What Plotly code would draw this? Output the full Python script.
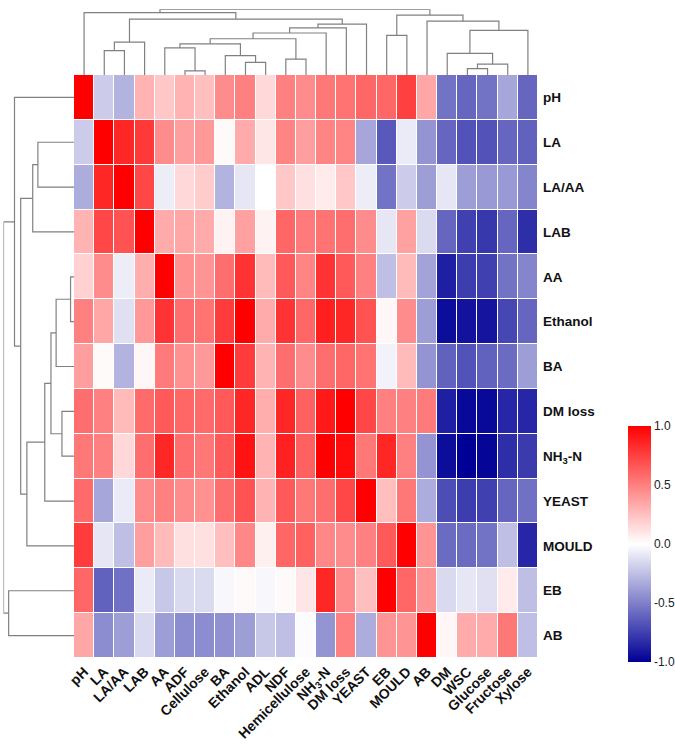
import plotly.graph_objects as go

# ---------------- data ----------------
row_labels = ["pH", "LA", "LA/AA", "LAB", "AA", "Ethanol", "BA", "DM loss",
              "NH<sub>3</sub>-N", "YEAST", "MOULD", "EB", "AB"]
col_labels = ["pH", "LA", "LA/AA", "LAB", "AA", "ADF", "Cellulose", "BA", "Ethanol",
              "ADL", "NDF", "Hemicellulose", "NH<sub>3</sub>-N", "DM loss", "YEAST",
              "EB", "MOULD", "AB", "DM", "WSC", "Glucose", "Fructose", "Xylose"]
col_keys = ["pH", "LA", "LA/AA", "LAB", "AA", "ADF", "Cellulose", "BA", "Ethanol",
            "ADL", "NDF", "Hemicellulose", "NH3-N", "DM loss", "YEAST",
            "EB", "MOULD", "AB", "DM", "WSC", "Glucose", "Fructose", "Xylose"]
row_keys = ["pH", "LA", "LA/AA", "LAB", "AA", "Ethanol", "BA", "DM loss",
            "NH3-N", "YEAST", "MOULD", "EB", "AB"]

r_pH      = [1.00, -0.20, -0.30, 0.30, 0.22, 0.30, 0.25, 0.45, 0.50, 0.15, 0.50, 0.45,
             0.53, 0.55, 0.60, 0.60, 0.75, 0.35, -0.55, -0.60, -0.55, -0.35, -0.60]
r_LA      = [-0.20, 1.00, 0.85, 0.78, 0.45, 0.38, 0.40, 0.02, 0.33, 0.10, 0.48, 0.38,
             0.48, 0.48, -0.35, -0.65, -0.08, -0.42, -0.60, -0.68, -0.68, -0.60, -0.62]
r_LAAA    = [-0.32, 0.85, 1.00, 0.72, -0.07, 0.15, 0.20, -0.30, -0.10, 0.00, 0.22, 0.12,
             0.08, 0.22, -0.07, -0.55, -0.20, -0.38, -0.10, -0.38, -0.40, -0.40, -0.48]
r_LAB     = [0.30, 0.72, 0.68, 1.00, 0.33, 0.35, 0.33, 0.05, 0.37, 0.05, 0.60, 0.52,
             0.55, 0.57, 0.45, -0.10, 0.37, -0.14, -0.60, -0.75, -0.78, -0.60, -0.82]
r_AA      = [0.18, 0.45, -0.07, 0.32, 1.00, 0.43, 0.42, 0.57, 0.80, 0.27, 0.65, 0.48,
             0.80, 0.65, 0.50, -0.25, 0.27, -0.36, -0.88, -0.76, -0.75, -0.55, -0.48]
r_Ethanol = [0.50, 0.35, -0.12, 0.40, 0.80, 0.57, 0.55, 0.77, 1.00, 0.33, 0.80, 0.60,
             0.88, 0.85, 0.68, 0.03, 0.45, -0.38, -0.95, -0.93, -0.92, -0.72, -0.60]
r_BA      = [0.38, 0.02, -0.30, 0.03, 0.52, 0.43, 0.40, 1.00, 0.77, 0.30, 0.57, 0.45,
             0.57, 0.60, 0.55, -0.05, 0.27, -0.42, -0.62, -0.68, -0.62, -0.58, -0.38]
r_DMloss  = [0.57, 0.50, 0.27, 0.58, 0.65, 0.60, 0.58, 0.65, 0.85, 0.32, 0.85, 0.62,
             0.90, 1.00, 0.72, 0.50, 0.50, 0.52, -0.88, -0.97, -0.97, -0.85, -0.85]
r_NH3N    = [0.53, 0.50, 0.15, 0.57, 0.85, 0.57, 0.53, 0.65, 0.93, 0.30, 0.87, 0.62,
             1.00, 0.95, 0.53, 0.85, 0.50, -0.42, -0.95, -1.00, -0.98, -0.82, -0.77]
r_YEAST   = [0.58, -0.35, -0.08, 0.45, 0.50, 0.45, 0.43, 0.57, 0.68, 0.30, 0.65, 0.53,
             0.57, 0.72, 1.00, 0.25, 0.53, -0.32, -0.70, -0.76, -0.75, -0.60, -0.56]
r_MOULD   = [0.77, -0.10, -0.25, 0.38, 0.27, 0.12, 0.12, 0.25, 0.47, 0.06, 0.60, 0.62,
             0.47, 0.45, 0.50, 0.65, 1.00, 0.42, -0.58, -0.58, -0.55, -0.25, -0.85]
r_EB      = [0.60, -0.62, -0.56, -0.08, -0.22, -0.15, -0.14, -0.03, 0.02, -0.03, 0.02, 0.10,
             0.85, 0.45, 0.25, 1.00, 0.60, 0.42, -0.15, -0.10, -0.12, 0.08, -0.25]
r_AB      = [0.35, -0.45, -0.38, -0.15, -0.38, -0.45, -0.45, -0.43, -0.38, -0.22, -0.25, -0.01,
             -0.42, 0.50, -0.32, 0.42, 0.42, 1.00, 0.03, 0.33, 0.33, 0.53, -0.25]

z = [r_pH, r_LA, r_LAAA, r_LAB, r_AA, r_Ethanol, r_BA, r_DMloss, r_NH3N,
     r_YEAST, r_MOULD, r_EB, r_AB]

# dendrogram merges: (child a, child b, height); "#k" refers to k-th merge
col_merges = [
    ("LA", "LA/AA", 72), ("#0", "LAB", 97), ("ADF", "Cellulose", 12), ("AA", "#2", 80),
    ("Ethanol", "ADL", 37), ("BA", "#4", 57), ("#3", "#5", 92), ("NDF", "Hemicellulose", 47),
    ("#6", "#7", 107), ("#8", "NH3-N", 124), ("#9", "DM loss", 139), ("#10", "YEAST", 150),
    ("#1", "#11", 165), ("pH", "#12", 184), ("EB", "MOULD", 117), ("WSC", "Glucose", 19),
    ("#15", "Fructose", 32), ("DM", "#16", 64), ("#17", "Xylose", 132), ("AB", "#18", 159),
    ("#14", "#19", 177), ("#13", "#20", 194),
]
row_merges = [
    ("LA", "LA/AA", 105), ("#0", "LAB", 120), ("AA", "Ethanol", 10), ("#2", "BA", 52),
    ("DM loss", "NH3-N", 35), ("#3", "#4", 67), ("#5", "YEAST", 85), ("#6", "MOULD", 137),
    ("#1", "#7", 155), ("pH", "#8", 173), ("EB", "AB", 190), ("#9", "#10", 205),
]


def dendro(leaves, merges):
    pos = {n: i for i, n in enumerate(leaves)}
    hgt = {n: 0 for n in leaves}
    p, h = [], []
    for k, (a, b, hh) in enumerate(merges):
        p += [pos[a], pos[a], pos[b], pos[b], None]
        h += [hgt[a], hh, hh, hgt[b], None]
        pos["#%d" % k] = (pos[a] + pos[b]) / 2
        hgt["#%d" % k] = hh
    return p, h


W, H = 675, 747
hx0, hx1 = 74, 538
hy0, hy1 = 75, 658

fig = go.Figure()
fig.add_trace(go.Heatmap(
    z=z, x=list(range(len(col_keys))), y=list(range(len(row_keys))),
    zmin=-1, zmax=1, xgap=1, ygap=1,
    colorscale=[[0, "#000096"], [0.5, "#FFFFFF"], [1, "#FF0000"]],
    colorbar=dict(
        x=628 / W, xanchor="left", y=1 - 662 / H, yanchor="bottom",
        len=236, lenmode="pixels", thickness=23, thicknessmode="pixels",
        xpad=0, ypad=0, outlinewidth=0, ticks="",
        tickvals=[-1, -0.5, 0, 0.5, 1], ticktext=["-1.0", "-0.5", "0.0", "0.5", "1.0"],
        tickfont=dict(family="Liberation Sans, Arial, sans-serif", size=12, color="#222"),
    ),
))

cx, ch = dendro(col_keys, col_merges)
fig.add_trace(go.Scatter(x=cx, y=ch, mode="lines", xaxis="x2", yaxis="y2",
                         line=dict(color="#808080", width=1.2), hoverinfo="skip",
                         showlegend=False))
ry, rh = dendro(row_keys, row_merges)
fig.add_trace(go.Scatter(x=rh, y=ry, mode="lines", xaxis="x3", yaxis="y3",
                         line=dict(color="#808080", width=1.2), hoverinfo="skip",
                         showlegend=False))

col_font = dict(family="Liberation Sans, Arial, sans-serif", size=14, color="#111", weight="bold")
row_font = dict(family="Liberation Sans, Arial, sans-serif", size=13.5, color="#111", weight="bold")
nc, nr = len(col_keys), len(row_keys)
fig.update_layout(
    width=W, height=H, margin=dict(l=0, r=0, t=0, b=0),
    paper_bgcolor="white", plot_bgcolor="white", showlegend=False,
    xaxis=dict(domain=[hx0 / W, hx1 / W], range=[-0.5, nc - 0.5],
               tickvals=list(range(nc)), ticktext=col_labels, tickangle=-45,
               tickfont=col_font, ticks="", showgrid=False, zeroline=False,
               showline=False, automargin=False, ticklabelstandoff=2),
    yaxis=dict(domain=[1 - hy1 / H, 1 - hy0 / H], range=[nr - 0.5, -0.5],
               tickvals=list(range(nr)), ticktext=row_labels, side="right",
               tickfont=row_font, ticks="", showgrid=False, zeroline=False,
               showline=False, automargin=False, ticklabelstandoff=4),
    xaxis2=dict(domain=[hx0 / W, hx1 / W], range=[-0.5, nc - 0.5], anchor="y2",
                visible=False),
    yaxis2=dict(domain=[1 - hy0 / H, 1 - 9.3 / H], range=[0, 194], anchor="x2",
                visible=False),
    xaxis3=dict(domain=[3.5 / W, hx0 / W], range=[205, 0], anchor="y3", visible=False),
    yaxis3=dict(domain=[1 - hy1 / H, 1 - hy0 / H], range=[nr - 0.5, -0.5], anchor="x3",
                visible=False),
)

fig.write_html("out.html")
